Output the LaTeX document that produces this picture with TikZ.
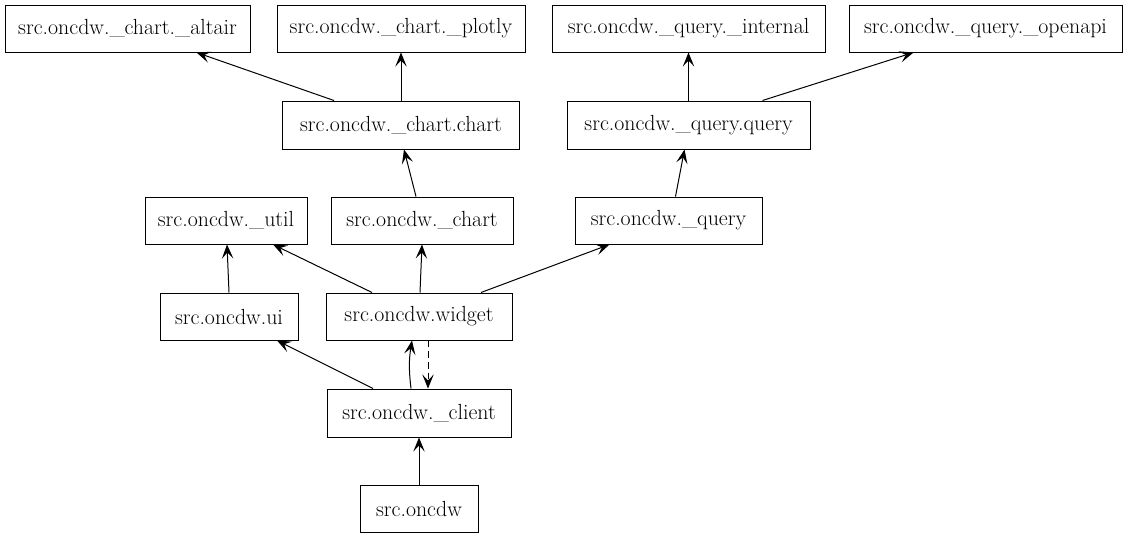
\documentclass[tikz,border=0pt]{standalone}
\usepackage{fontspec}
\usetikzlibrary{arrows.meta,calc}
\tikzset{
  mod/.style={draw, line width=0.75pt, inner sep=0pt, font=\fontsize{16.4}{19}\selectfont, minimum height=47*0.75pt},
  dep/.style={line width=0.75pt, -{Stealth[length=10.5pt,width=8.5pt,inset=4.5pt]}},
}
\begin{document}
\begin{tikzpicture}[x=0.75pt,y=-0.75pt]
\useasboundingbox (0,0) rectangle (1128,539);
\node[mod, minimum width=245*0.75pt] (altair) at (127.5,28.5) {src.oncdw.\_chart.\_altair};
\node[mod, minimum width=248*0.75pt] (plotly) at (401,28.5) {src.oncdw.\_chart.\_plotly};
\node[mod, minimum width=273*0.75pt] (internal) at (688.5,28.5) {src.oncdw.\_query.\_internal};
\node[mod, minimum width=273*0.75pt] (openapi) at (985.5,28.5) {src.oncdw.\_query.\_openapi};
\node[mod, minimum width=237*0.75pt, minimum height=48*0.75pt] (cc) at (401,125) {src.oncdw.\_chart.chart};
\node[mod, minimum width=243*0.75pt, minimum height=48*0.75pt] (qq) at (688.5,125) {src.oncdw.\_query.query};
\node[mod, minimum width=162*0.75pt] (util) at (226,220.5) {src.oncdw.\_util};
\node[mod, minimum width=182*0.75pt] (chart) at (422,220.5) {src.oncdw.\_chart};
\node[mod, minimum width=187*0.75pt] (query) at (668.5,220.5) {src.oncdw.\_query};
\node[mod, minimum width=138*0.75pt] (ui) at (229,316.5) {src.oncdw.ui};
\node[mod, minimum width=186*0.75pt] (widget) at (419,316.5) {src.oncdw.widget};
\node[mod, minimum width=184*0.75pt, minimum height=48*0.75pt] (client) at (419,413) {src.oncdw.\_client};
\node[mod, minimum width=118*0.75pt] (oncdw) at (419,508.5) {src.oncdw};

\draw[dep] ($(cc.north)+(-67,0)$) -- ($(altair.south)+(69,0)$);
\draw[dep] (cc.north) -- (plotly.south);
\draw[dep] (qq.north) -- (internal.south);
\draw[dep] ($(qq.north)+(74,0)$) -- ($(openapi.south)+(-72,0)$);
\draw[dep] ($(chart.north)+(-6,0)$) -- ($(cc.south)+(3,0)$);
\draw[dep] ($(query.north)+(7,0)$) -- ($(qq.south)+(-4,0)$);
\draw[dep] ($(widget.north)+(-47,0)$) -- ($(util.south)+(47,0)$);
\draw[dep] ($(widget.north)+(1,0)$) -- (chart.south);
\draw[dep] ($(widget.north)+(62,0)$) -- ($(query.south)+(-59,0)$);
\draw[dep] (ui.north) -- ($(util.south)+(1,0)$);
\draw[dep] ($(client.north)+(-46,0)$) -- ($(ui.south)+(48,0)$);
\draw[dep] ($(client.north)+(-8,0)$) to[bend left=8] ($(widget.south)+(-7,0)$);
\draw[dep, dashed, dash pattern=on 5pt off 3pt] ($(widget.south)+(9,0)$) -- ($(client.north)+(9,0)$);
\draw[dep] (oncdw.north) -- (client.south);
\end{tikzpicture}
\end{document}
